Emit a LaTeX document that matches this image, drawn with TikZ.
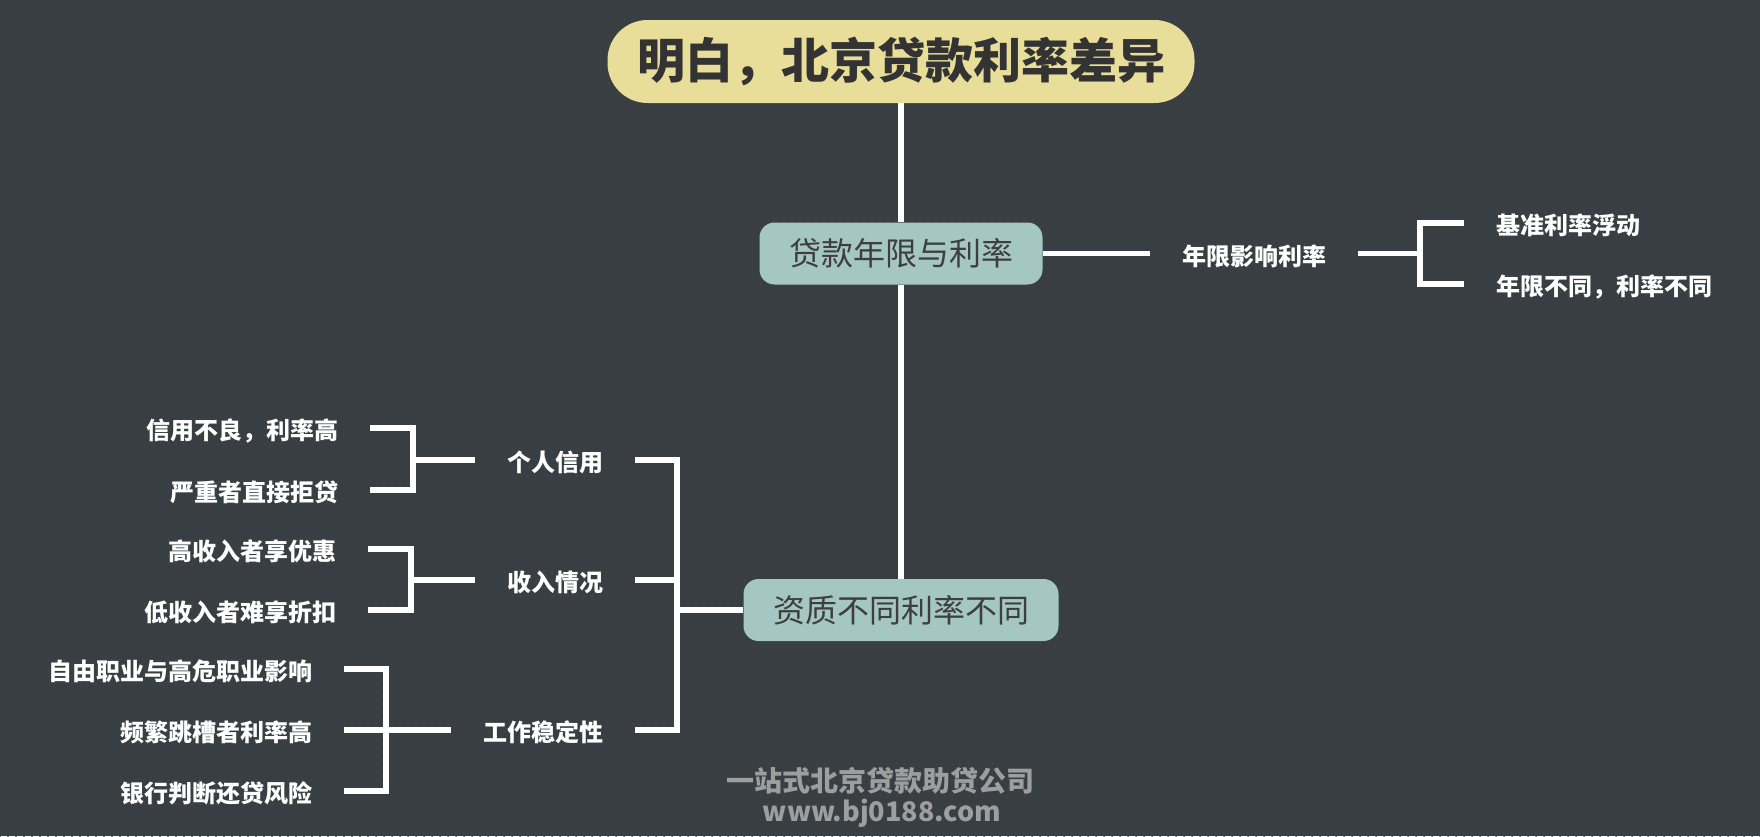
\documentclass[tikz,border=0pt]{standalone}
\usepackage{fontspec}
\setmainfont{Noto Sans CJK SC}
\newfontfamily\cjk{Noto Sans CJK SC}
\usetikzlibrary{patterns.meta}
\definecolor{bgc}{RGB}{56,62,66}
\definecolor{dotc}{RGB}{66,72,76}
\definecolor{titlefill}{RGB}{232,222,154}
\definecolor{titletext}{RGB}{51,51,51}
\definecolor{nodefill}{RGB}{165,199,193}
\definecolor{nodetext}{RGB}{62,62,62}
\definecolor{wmc}{RGB}{158,158,158}
\begin{document}
\begin{tikzpicture}[x=1pt,y=-1pt,
  conn/.style={draw=white,line width=5.5pt,line join=miter},
  titlebox/.style={fill=titlefill,rounded corners=40pt,minimum width=587pt,minimum height=83pt,inner sep=0pt,text=titletext,font=\cjk\bfseries\fontsize{48}{56}\selectfont},
  topic/.style={fill=nodefill,rounded corners=15pt,minimum height=62pt,inner sep=0pt,text=nodetext,font=\cjk\fontsize{32}{38}\selectfont},
  leaf/.style={inner xsep=32pt,inner ysep=0pt,outer sep=0pt,text height=23pt,text depth=0pt,text=white,font=\cjk\bfseries\fontsize{24}{28}\selectfont},
  wmark/.style={text=wmc,inner sep=0pt,font=\cjk\bfseries\fontsize{28}{32}\selectfont}]
\fill[bgc] (0,0) rectangle (1760,836);
\fill[pattern={Dots[radius=1pt,distance=8pt]},pattern color=dotc] (0,0) rectangle (1760,836);
\useasboundingbox (0,0) rectangle (1760,836);

% main nodes
\node[titlebox] (t) at (901,61.5) {明白，北京贷款利率差异};
\node[topic,minimum width=283pt] (a) at (901,253.5) {贷款年限与利率};
\node[topic,minimum width=315pt] (b) at (901,610) {资质不同利率不同};
\draw[conn] (t.south) -- (a.north);
\draw[conn] (a.south) -- (b.north);

% right branch
\node[leaf,anchor=west] (y1) at (1150,253.5) {年限影响利率};
\coordinate (k4) at (1420,253.5);
\node[leaf,anchor=west] (r1) at (1464,223) {基准利率浮动};
\node[leaf,anchor=west] (r2) at (1464,284) {年限不同，利率不同};
\draw[conn] (a.east) -- (y1.west);
\draw[conn] (y1.east) -- (k4);
\draw[conn] (r1.west) -| (k4) |- (r2.west);

% left branch
\node[leaf,anchor=east] (p1) at (635,460) {个人信用};
\node[leaf,anchor=east] (p2) at (635,580) {收入情况};
\node[leaf,anchor=east] (p3) at (635,730) {工作稳定性};
\coordinate (jb) at (677,610);
\draw[conn] (p1.east) -| (jb) |- (p3.east);
\draw[conn] (p2.east) -- (p2.east -| jb);
\draw[conn] (jb) -- (b.west);

\node[leaf,anchor=east] (c11) at (370,428) {信用不良，利率高};
\node[leaf,anchor=east] (c12) at (370,490) {严重者直接拒贷};
\coordinate (k1) at (413,460);
\draw[conn] (c11.east) -| (k1) |- (c12.east);
\draw[conn] (k1) -- (p1.west);

\node[leaf,anchor=east] (c21) at (368,549) {高收入者享优惠};
\node[leaf,anchor=east] (c22) at (368,610) {低收入者难享折扣};
\coordinate (k2) at (411,580);
\draw[conn] (c21.east) -| (k2) |- (c22.east);
\draw[conn] (k2) -- (p2.west);

\node[leaf,anchor=east] (c31) at (344,669) {自由职业与高危职业影响};
\node[leaf,anchor=east] (c32) at (344,730) {频繁跳槽者利率高};
\node[leaf,anchor=east] (c33) at (344,791) {银行判断还贷风险};
\coordinate (k3) at (386,730);
\draw[conn] (c31.east) -| (k3) |- (c33.east);
\draw[conn] (c32.east) -- (p3.west);

% watermark
\node[wmark] (w1) at (880,781) {一站式北京贷款助贷公司};
\node[wmark,font=\cjk\bfseries\fontsize{27}{30}\selectfont] (w2) at (882,813) {www.bj0188.com};
\end{tikzpicture}
\end{document}
